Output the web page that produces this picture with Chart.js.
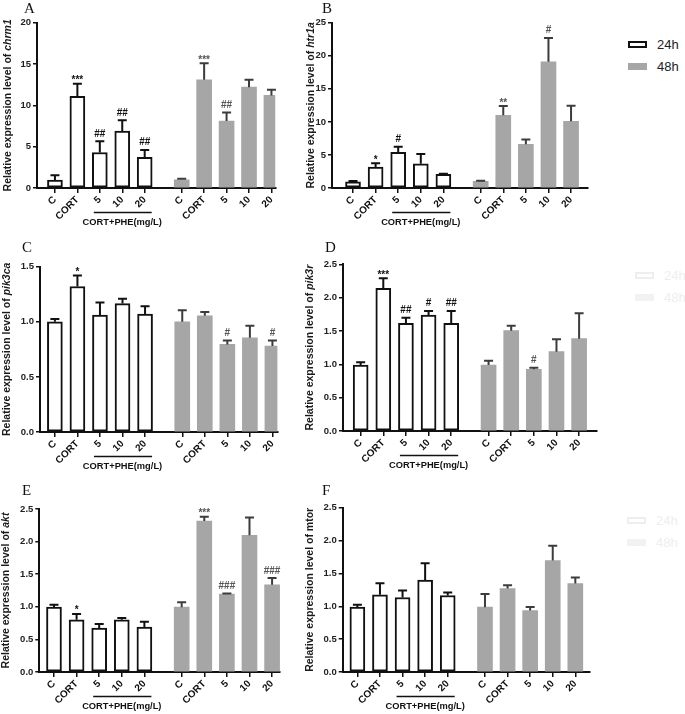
<!DOCTYPE html>
<html><head><meta charset="utf-8">
<script src="https://cdn.jsdelivr.net/npm/chart.js@4.4.1/dist/chart.umd.min.js"></script>
<style>
html,body{margin:0;padding:0;background:#fff;}
#wrap{position:relative;width:685px;height:714px;overflow:hidden;background:#fff;}
.pane{position:absolute;}
.lg{position:absolute;font:13px "Liberation Sans",Arial,sans-serif;line-height:15px;color:#222;white-space:nowrap;}
.bx{position:absolute;box-sizing:border-box;}
</style></head><body><div id="wrap"></div>
<script>
// ---------- data ----------
const groupLabels = ['C', 'CORT', '5', '10', '20'];
const seriesNames = ['24h', '48h'];
const treatLabel = 'CORT+PHE(mg/L)';

const chrm1_24h = [0.95, 11.1, 4.3, 6.9, 3.7];
const chrm1_24h_sd = [0.6, 1.5, 1.35, 1.3, 0.9];
const chrm1_48h = [1.0, 13.1, 8.1, 12.2, 11.2];
const chrm1_48h_sd = [0.12, 2.0, 1.05, 0.9, 0.7];
const chrm1_24h_sig = ['', '***', '##', '##', '##'];
const chrm1_48h_sig = ['', '***', '##', '', ''];

const htr1a_24h = [0.95, 3.15, 5.4, 3.65, 2.05];
const htr1a_24h_sd = [0.12, 0.6, 0.85, 1.5, 0.1];
const htr1a_48h = [1.0, 11.0, 6.6, 19.1, 10.1];
const htr1a_48h_sd = [0.1, 1.4, 0.75, 3.6, 2.35];
const htr1a_24h_sig = ['', '*', '#', '', ''];
const htr1a_48h_sig = ['', '**', '', '#', ''];

const pik3ca_24h = [1.0, 1.32, 1.06, 1.165, 1.07];
const pik3ca_24h_sd = [0.025, 0.1, 0.115, 0.045, 0.07];
const pik3ca_48h = [1.0, 1.055, 0.795, 0.855, 0.78];
const pik3ca_48h_sd = [0.105, 0.035, 0.036, 0.11, 0.05];
const pik3ca_24h_sig = ['', '*', '', '', ''];
const pik3ca_48h_sig = ['', '', '#', '', '#'];

const pik3r_24h = [0.99, 2.14, 1.615, 1.74, 1.615];
const pik3r_24h_sd = [0.04, 0.15, 0.085, 0.06, 0.185];
const pik3r_48h = [0.99, 1.505, 0.925, 1.19, 1.385];
const pik3r_48h_sd = [0.065, 0.075, 0.025, 0.185, 0.38];
const pik3r_24h_sig = ['', '***', '##', '#', '##'];
const pik3r_48h_sig = ['', '', '#', '', ''];

const akt_24h = [0.995, 0.80, 0.673, 0.80, 0.69];
const akt_24h_sd = [0.035, 0.09, 0.062, 0.03, 0.08];
const akt_48h = [0.995, 2.316, 1.194, 2.097, 1.337];
const akt_48h_sd = [0.075, 0.065, 0.01, 0.273, 0.103];
const akt_24h_sig = ['', '*', '', '', ''];
const akt_48h_sig = ['', '***', '###', '', '###'];

const mtor_24h = [0.987, 1.174, 1.134, 1.40, 1.164];
const mtor_24h_sd = [0.035, 0.176, 0.106, 0.255, 0.046];
const mtor_48h = [0.987, 1.27, 0.936, 1.695, 1.346];
const mtor_48h_sd = [0.2, 0.05, 0.054, 0.225, 0.091];
const mtor_24h_sig = ['', '', '', '', ''];
const mtor_48h_sig = ['', '', '', '', ''];

const yMaxA = 20, yStepA = 5;
const yMaxB = 25, yStepB = 5;
const yMaxC = 1.5, yStepC = 0.5;
const yMaxD = 2.5, yStepD = 0.5;
const yMaxE = 2.5, yStepE = 0.5;
const yMaxF = 2.5, yStepF = 0.5;

// ---------- layout / style ----------
const FONT = '"Liberation Sans", Arial, Helvetica, sans-serif';
const SERIF = '"Liberation Serif", "Times New Roman", serif';
const GROUP_OFFSET = 5.65;
const GRAY = '#a6a6a6';
const INK = '#111';

const panels = [
  {letter:'A', gene:'chrm1', italic:true, m24:chrm1_24h, e24:chrm1_24h_sd, m48:chrm1_48h, e48:chrm1_48h_sd, s24:chrm1_24h_sig, s48:chrm1_48h_sig, yMax:yMaxA, yStep:yStepA, dec:0,
   L:{cx:0, cy:0, axisX:37, right:277, top:22.7, zero:188.3, xMin:-0.80, xMax:9.82, titleX:8, lx:24, ly:13}},
  {letter:'B', gene:'htr1a', italic:true, m24:htr1a_24h, e24:htr1a_24h_sd, m48:htr1a_48h, e48:htr1a_48h_sd, s24:htr1a_24h_sig, s48:htr1a_48h_sig, yMax:yMaxB, yStep:yStepB, dec:0,
   L:{cx:300, cy:0, axisX:332, right:588, top:22.7, zero:188.3, xMin:-0.93, xMax:10.4, titleX:311, lx:322, ly:13}},
  {letter:'C', gene:'pik3ca', italic:true, m24:pik3ca_24h, e24:pik3ca_24h_sd, m48:pik3ca_48h, e48:pik3ca_48h_sd, s24:pik3ca_24h_sig, s48:pik3ca_48h_sig, yMax:yMaxC, yStep:yStepC, dec:1,
   L:{cx:0, cy:235, axisX:40, right:278, top:266.7, zero:431.7, xMin:-0.66, xMax:9.87, titleX:7, lx:22, ly:252}},
  {letter:'D', gene:'pik3r', italic:true, m24:pik3r_24h, e24:pik3r_24h_sd, m48:pik3r_48h, e48:pik3r_48h_sd, s24:pik3r_24h_sig, s48:pik3r_48h_sig, yMax:yMaxD, yStep:yStepD, dec:1,
   L:{cx:300, cy:235, axisX:343, right:597, top:264.3, zero:431, xMin:-0.78, xMax:10.44, titleX:310, lx:325, ly:252}},
  {letter:'E', gene:'akt', italic:true, m24:akt_24h, e24:akt_24h_sd, m48:akt_48h, e48:akt_48h_sd, s24:akt_24h_sig, s48:akt_48h_sig, yMax:yMaxE, yStep:yStepE, dec:1,
   L:{cx:0, cy:470, axisX:39.3, right:280, top:509, zero:672.3, xMin:-0.65, xMax:10.0, titleX:6.5, lx:22, ly:495}},
  {letter:'F', gene:'mtor', italic:false, m24:mtor_24h, e24:mtor_24h_sd, m48:mtor_48h, e48:mtor_48h_sd, s24:mtor_24h_sig, s48:mtor_48h_sig, yMax:yMaxF, yStep:yStepF, dec:1,
   L:{cx:300, cy:470, axisX:342.7, right:590, top:507.7, zero:672.3, xMin:-0.65, xMax:10.3, titleX:310, lx:322, ly:495}}
];

const X_AXIS_H = 42;
const tickPositions = groupLabels.map((_, i) => i).concat(groupLabels.map((_, i) => i + GROUP_OFFSET));
const xLabels = groupLabels.concat(groupLabels);

const annotate = {
  id: 'annotate',
  afterDatasetsDraw(chart, args, opts) {
    const p = opts.panel; if (!p) return;
    const {ctx} = chart; const x = chart.scales.x, y = chart.scales.y;
    ctx.save();
    const sets = [
      {m:p.m24, e:p.e24, s:p.s24, off:0, col:INK, scol:INK},
      {m:p.m48, e:p.e48, s:p.s48, off:GROUP_OFFSET, col:'#3c3c3c', scol:'#555'}
    ];
    sets.forEach(st => {
      st.m.forEach((v, i) => {
        const px = x.getPixelForValue(i + st.off);
        const y0 = y.getPixelForValue(v);
        const y1 = y.getPixelForValue(v + st.e[i]);
        ctx.strokeStyle = st.col; ctx.lineWidth = 2; ctx.lineCap = 'butt';
        ctx.beginPath();
        ctx.moveTo(px, y0); ctx.lineTo(px, y1);
        ctx.moveTo(px - 4.5, y1); ctx.lineTo(px + 4.5, y1);
        ctx.stroke();
        const sig = st.s[i];
        if (sig) {
          ctx.fillStyle = st.scol;
          ctx.font = 'bold 10px ' + FONT;
          ctx.textAlign = 'center'; ctx.textBaseline = 'alphabetic';
          ctx.fillText(sig, px, y1 - (sig[0] === '*' ? 0.5 : 4.5));
        }
      });
    });
    ctx.restore();
  },
  afterDraw(chart, args, opts) {
    const p = opts.panel; if (!p) return;
    const {ctx, chartArea} = chart; const x = chart.scales.x; const L = p.L;
    ctx.save();
    // bracket under treatment doses
    const x1 = x.getPixelForValue(2) - 6, x2 = x.getPixelForValue(4) + 7;
    const by = chartArea.bottom + 24.5;
    ctx.strokeStyle = INK; ctx.lineWidth = 1.5;
    ctx.beginPath(); ctx.moveTo(x1, by); ctx.lineTo(x2, by); ctx.stroke();
    ctx.fillStyle = INK; ctx.font = 'bold 9.3px ' + FONT;
    ctx.textAlign = 'center'; ctx.textBaseline = 'middle';
    ctx.fillText(treatLabel, (x.getPixelForValue(2) + x.getPixelForValue(4)) / 2, chartArea.bottom + 34);
    // panel letter
    ctx.font = '15px ' + SERIF; ctx.textAlign = 'left'; ctx.textBaseline = 'alphabetic';
    ctx.fillStyle = '#111';
    ctx.fillText(p.letter, L.lx - L.cx, L.ly - L.cy);
    // y-axis title with italic gene name
    const pre = 'Relative expression level of ';
    const f1 = 'bold 10.5px ' + FONT;
    const f2 = (p.italic ? 'italic ' : '') + 'bold 10.5px ' + FONT;
    ctx.font = f1; const w1 = ctx.measureText(pre).width;
    ctx.font = f2; const w2 = ctx.measureText(p.gene).width;
    ctx.translate(L.titleX - L.cx, (chartArea.top + chartArea.bottom) / 2);
    ctx.rotate(-Math.PI / 2);
    ctx.textAlign = 'left'; ctx.textBaseline = 'middle'; ctx.fillStyle = '#1a1a1a';
    const start = -(w1 + w2) / 2;
    ctx.font = f1; ctx.fillText(pre, start, 0);
    ctx.font = f2; ctx.fillText(p.gene, start + w1, 0);
    ctx.restore();
  }
};

const wrap = document.getElementById('wrap');
panels.forEach(p => {
  const L = p.L;
  const W = Math.round(L.right - L.cx + 4);
  const H = Math.round(L.zero - L.cy + X_AXIS_H);
  const div = document.createElement('div');
  div.className = 'pane';
  div.style.left = L.cx + 'px'; div.style.top = L.cy + 'px';
  div.style.width = W + 'px'; div.style.height = H + 'px';
  const cv = document.createElement('canvas');
  cv.width = W; cv.height = H; cv.style.width = W + 'px'; cv.style.height = H + 'px';
  div.appendChild(cv); wrap.appendChild(div);
  const tickFont = {family: FONT, size: 9.5, weight: 'bold'};
  new Chart(cv, {
    type: 'bar',
    data: {
      datasets: [
        {label: seriesNames[0], data: p.m24.map((v, i) => ({x: i, y: v})),
         backgroundColor: '#ffffff', borderColor: INK, borderWidth: 2, borderSkipped: false,
         barThickness: 15, grouped: false},
        {label: seriesNames[1], data: p.m48.map((v, i) => ({x: i + GROUP_OFFSET, y: v})),
         backgroundColor: GRAY, borderWidth: 0, barThickness: 15, grouped: false}
      ]
    },
    options: {
      responsive: false, animation: false, events: [],
      layout: {padding: {left: 0, top: L.top - L.cy, right: W - (L.right - L.cx), bottom: 0}},
      plugins: {legend: {display: false}, tooltip: {enabled: false}, annotate: {panel: p}},
      scales: {
        x: {
          type: 'linear', min: L.xMin, max: L.xMax, offset: false,
          afterBuildTicks: s => { s.ticks = tickPositions.map(v => ({value: v})); },
          afterFit: s => { s.height = X_AXIS_H; },
          ticks: {callback: (v, i) => xLabels[i], autoSkip: false, maxRotation: 45, minRotation: 45,
                  padding: 1, color: INK, font: {family: FONT, size: 10, weight: 'bold'}},
          grid: {display: true, drawOnChartArea: false, drawTicks: true, tickLength: 5, color: INK, lineWidth: 1.5, offset: false},
          border: {display: true, color: INK, width: 2}
        },
        y: {
          min: 0, max: p.yMax,
          afterFit: s => { s.width = L.axisX - L.cx; },
          ticks: {stepSize: p.yStep, callback: v => Number(v).toFixed(p.dec), padding: 2, color: '#222', font: tickFont},
          grid: {display: true, drawOnChartArea: false, drawTicks: true, tickLength: 4, color: INK, lineWidth: 1.5},
          border: {display: true, color: INK, width: 2}
        }
      }
    },
    plugins: [annotate]
  });
});

// legends (main in panel B, faint ghost copies at D and F)
function addLegend(x, y, col, boxCols) {
  seriesNames.forEach((n, i) => {
    const b = document.createElement('div');
    b.className = 'bx';
    b.style.left = x + 'px'; b.style.top = (y + i * 22 - 3) + 'px';
    b.style.width = '19px'; b.style.height = '7px';
    if (i === 0) { b.style.border = '2px solid ' + boxCols[0]; b.style.background = '#fff'; }
    else { b.style.background = boxCols[1]; }
    wrap.appendChild(b);
    const t = document.createElement('div');
    t.className = 'lg'; t.textContent = n; t.style.color = col;
    t.style.left = (x + 29) + 'px'; t.style.top = (y + i * 22 - 7.5) + 'px';
    wrap.appendChild(t);
  });
}
addLegend(628, 44, '#222', [INK, GRAY]);
addLegend(635, 275, '#eeeeee', ['#eeeeee', '#f2f2f2']);
addLegend(627, 520, '#eeeeee', ['#eeeeee', '#f2f2f2']);
</script></body></html>
